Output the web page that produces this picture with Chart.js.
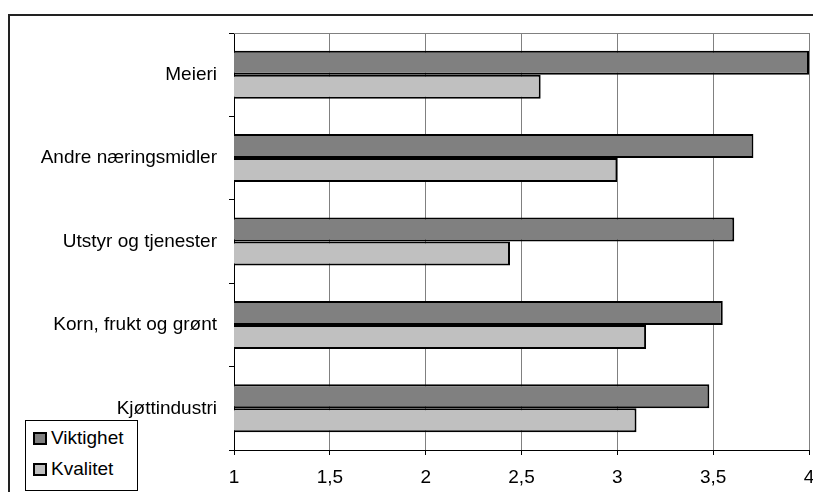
<!DOCTYPE html>
<html>
<head>
<meta charset="utf-8">
<script src="https://cdn.jsdelivr.net/npm/chart.js@4"></script>
<style>
  body { margin: 0; background: #fff; }
  #wrap { position: relative; width: 813px; height: 492px; overflow: hidden; }
  #frame { position: absolute; left: 8px; top: 14px; width: 900px; height: 600px; border-left: 2px solid #222; border-top: 2px solid #222; }
  #legend { position: absolute; left: 25px; top: 420px; width: 111px; height: 69px; border: 1px solid #000; background: #fff;
    font-family: "Liberation Sans", Arial, sans-serif; font-size: 19px; }
  .item { position: absolute; left: 7px; display: flex; align-items: center; line-height: 22px; }
  .swatch { width: 10px; height: 9px; border: 2px solid #000; margin-right: 4px; }
</style>
</head>
<body>
<div id="wrap">
  <div id="frame"></div>
  <canvas id="chart" width="813" height="492"></canvas>
  <div id="legend"></div>
</div>
<script>
// data
const categories = ["Meieri", "Andre næringsmidler", "Utstyr og tjenester", "Korn, frukt og grønt", "Kjøttindustri"];
const viktighet = [4.0, 3.71, 3.61, 3.55, 3.48];
const kvalitet = [2.60, 3.00, 2.44, 3.15, 3.10];
const seriesNames = ["Viktighet", "Kvalitet"];
const seriesColors = ["#808080", "#c0c0c0"];

// grey line on top of plot area
const topBorder = {
  id: "topBorder",
  afterDraw(chart) {
    const a = chart.chartArea;
    const ctx = chart.ctx;
    ctx.save();
    ctx.strokeStyle = "#808080";
    ctx.lineWidth = 1;
    ctx.beginPath();
    ctx.moveTo(a.left, a.top + 0.5);
    ctx.lineTo(a.right, a.top + 0.5);
    ctx.stroke();
    ctx.restore();
  },
};

const font = { family: "'Liberation Sans', Arial, sans-serif", size: 19 };

new Chart(document.getElementById("chart"), {
  type: "bar",
  data: {
    labels: categories,
    datasets: [
      {
        label: seriesNames[0],
        data: viktighet,
        backgroundColor: seriesColors[0],
        borderColor: "#000",
        borderWidth: 2,
        borderSkipped: false,
        categoryPercentage: 0.576,
        barPercentage: 1,
      },
      {
        label: seriesNames[1],
        data: kvalitet,
        backgroundColor: seriesColors[1],
        borderColor: "#000",
        borderWidth: 2,
        borderSkipped: false,
        categoryPercentage: 0.576,
        barPercentage: 1,
      },
    ],
  },
  options: {
    indexAxis: "y",
    responsive: false,
    animation: false,
    layout: { padding: { top: 33, left: 0, right: 4, bottom: 0 } },
    plugins: { legend: { display: false }, tooltip: { enabled: false } },
    scales: {
      x: {
        min: 1,
        max: 4,
        ticks: {
          stepSize: 0.5,
          color: "#000",
          font: font,
          padding: 11,
          maxRotation: 0,
          callback: (v) => String(v).replace(".", ","),
        },
        grid: { color: "#808080", tickColor: "#000", tickLength: 5 },
        border: { color: "#000", width: 1 },
        afterFit: (s) => {
          s.height = 42;
          s.paddingRight = 0;
        },
      },
      y: {
        ticks: { color: "#000", font: font, padding: 12 },
        grid: { offset: true, drawOnChartArea: false, tickColor: "#000", tickLength: 5 },
        border: { color: "#000", width: 1 },
        afterFit: (s) => { s.width = 234; },
      },
    },
  },
  plugins: [topBorder],
});

// legend
const legend = document.getElementById("legend");
seriesNames.forEach((name, i) => {
  const item = document.createElement("div");
  item.className = "item";
  item.style.top = (i === 0 ? 6 : 37) + "px";
  item.innerHTML = '<span class="swatch" style="background:' + seriesColors[i] + '"></span>' + name;
  legend.appendChild(item);
});
</script>
</body>
</html>
